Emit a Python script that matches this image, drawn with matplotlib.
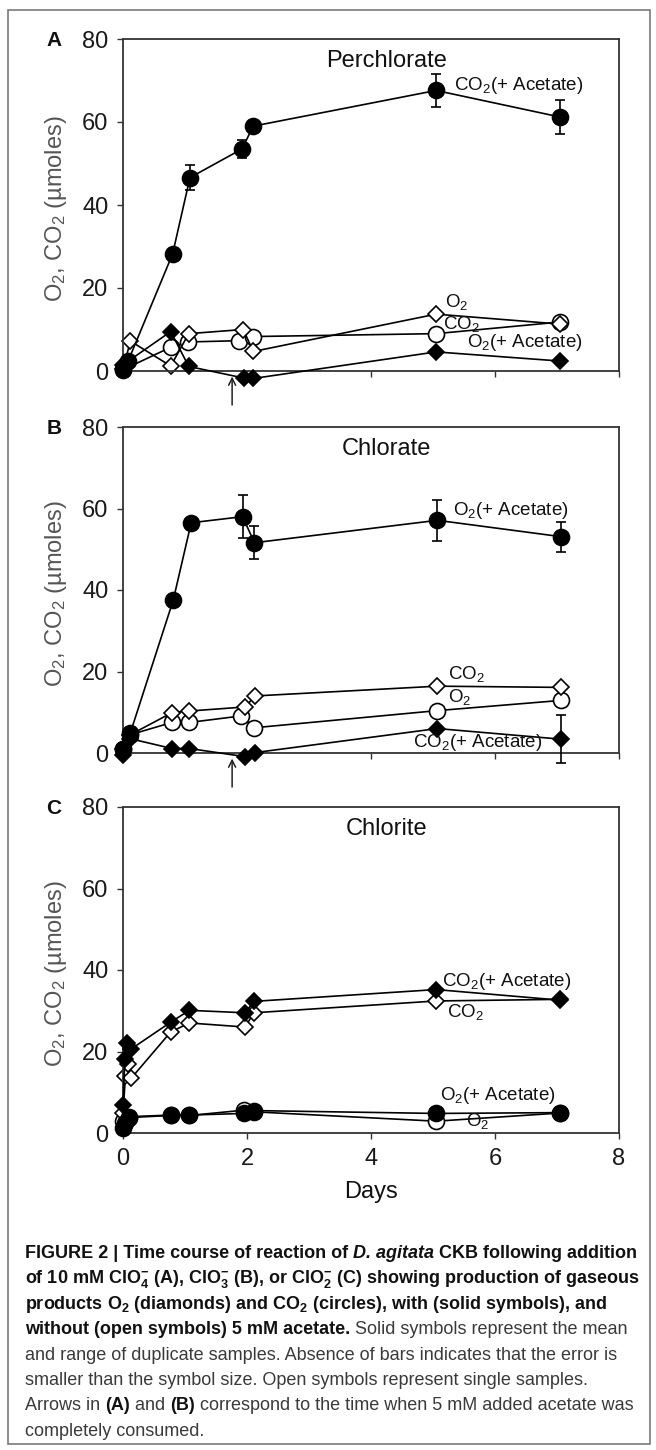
import matplotlib
matplotlib.use('Agg')
import matplotlib.pyplot as plt
from matplotlib.patches import Rectangle

# ---------------- data ----------------
DAY_TICKS = [0, 2, 4, 6, 8]
Y_TICKS = [0, 20, 40, 60, 80]
TITLES = ['Perchlorate', 'Chlorate', 'Chlorite']
PANEL_LETTERS = ['A', 'B', 'C']
ARROW_DAY = 1.76

# Panel A - Perchlorate
A_co2_ac_days = [0.0, 0.08, 0.8, 1.08, 1.92, 2.1, 5.05, 7.05]
A_co2_ac = [0.6, 2.3, 28.2, 46.6, 53.5, 59.0, 67.6, 61.2]
A_co2_ac_err = [0, 0, 0, 3.0, 2.2, 0, 4.0, 4.2]
A_o2_ac_days = [0.0, 0.77, 1.06, 1.95, 2.1, 5.05, 7.05]
A_o2_ac = [1.5, 9.5, 1.1, -1.7, -1.8, 4.6, 2.4]
A_co2_days = [0.0, 0.78, 1.05, 1.87, 2.1, 5.05, 7.05]
A_co2 = [0.3, 5.8, 7.0, 7.3, 8.3, 9.0, 11.8]
A_o2_days = [0.0, 0.12, 0.77, 1.06, 1.94, 2.1, 5.05, 7.05]
A_o2 = [0.5, 7.2, 1.2, 9.0, 10.0, 4.7, 13.7, 11.3]

# Panel B - Chlorate
B_o2_ac_days = [0.0, 0.12, 0.81, 1.1, 1.93, 2.12, 5.07, 7.06]
B_o2_ac = [1.0, 5.0, 37.5, 56.5, 58.0, 51.6, 57.1, 53.1]
B_o2_ac_err = [0, 0, 0, 0, 5.3, 4.1, 5.0, 3.7]
B_co2_days = [0.0, 0.12, 0.79, 1.07, 1.97, 2.13, 5.07, 7.06]
B_co2 = [1.0, 4.5, 9.9, 10.3, 11.3, 14.0, 16.4, 16.1]
B_o2_days = [0.0, 0.12, 0.79, 1.07, 1.91, 2.12, 5.07, 7.06]
B_o2 = [1.0, 4.5, 7.5, 7.5, 9.1, 6.2, 10.4, 12.9]
B_co2_ac_days = [0.0, 0.12, 0.79, 1.07, 1.97, 2.13, 5.07, 7.06]
B_co2_ac = [-0.5, 3.5, 1.1, 1.1, -0.9, 0.1, 6.0, 3.4]
B_co2_ac_err = [0, 0, 0, 0, 0, 0, 0, 5.9]

# Panel C - Chlorite
C_co2_ac_days = [0.0, 0.03, 0.07, 0.13, 0.77, 1.07, 1.97, 2.11, 5.05, 7.05]
C_co2_ac = [6.8, 18.2, 22.0, 20.6, 27.2, 30.1, 29.5, 32.3, 35.2, 32.6]
C_co2_days = [0.0, 0.04, 0.08, 0.13, 0.77, 1.07, 1.97, 2.11, 5.05, 7.05]
C_co2 = [5.0, 14.0, 17.0, 13.4, 24.8, 27.0, 26.0, 29.5, 32.4, 32.8]
C_o2_ac_days = [0.0, 0.04, 0.1, 0.77, 1.07, 1.95, 2.11, 5.05, 7.05]
C_o2_ac = [1.2, 2.5, 4.0, 4.4, 4.4, 4.8, 5.5, 4.8, 5.0]
C_o2_days = [0.0, 0.1, 0.77, 1.07, 1.95, 2.11, 5.05, 7.05]
C_o2 = [3.0, 3.8, 4.3, 4.3, 5.6, 5.2, 2.9, 4.9]

# series labels: (text, day, value)
A_labels = [(r'CO$_2$(+ Acetate)', 5.34, 68.7), (r'O$_2$', 5.19, 16.6),
            (r'CO$_2$', 5.16, 11.3), (r'O$_2$(+ Acetate)', 5.55, 6.8)]
B_labels = [(r'O$_2$(+ Acetate)', 5.32, 59.5), (r'CO$_2$', 5.25, 19.4),
            (r'O$_2$', 5.25, 13.8), (r'CO$_2$(+ Acetate)', 4.68, 2.6)]
C_labels = [(r'CO$_2$(+ Acetate)', 5.14, 37.3), (r'CO$_2$', 5.22, 29.7),
            (r'O$_2$(+ Acetate)', 5.12, 9.1), (r'O$_2$', 5.53, 2.85)]

# ---------------- style ----------------
W, H, DPI = 656, 1450, 100
plt.rcParams['font.family'] = ['Liberation Sans', 'DejaVu Sans']
plt.rcParams['mathtext.fontset'] = 'custom'
plt.rcParams['mathtext.rm'] = 'Liberation Sans'
plt.rcParams['mathtext.it'] = 'Liberation Sans:italic'
plt.rcParams['mathtext.bf'] = 'Liberation Sans:bold'

fig = plt.figure(figsize=(W / DPI, H / DPI), dpi=DPI)
fig.patch.set_facecolor('white')

AX_LEFT, AX_RIGHT = 123, 619
PANEL_TB = [(39, 371), (427, 753), (807, 1133)]
SPINE = '#333333'
MS_C, MS_D = 11.5, 8.3
LW = 1.2


def add_axes_px(top, bottom):
    return fig.add_axes([AX_LEFT / W, 1 - bottom / H,
                         (AX_RIGHT - AX_LEFT) / W, (bottom - top) / H])


def series(ax, days, vals, marker, filled, err=None):
    ms = MS_C if marker == 'o' else MS_D
    ax.plot(days, vals, '-', color='k', lw=LW, marker=marker, ms=ms,
            mfc='k' if filled else 'white', mec='k', mew=1.2,
            clip_on=False, zorder=3 if filled else 2.5)
    if err is not None:
        d = [x for x, e in zip(days, err) if e > 0]
        v = [y for y, e in zip(vals, err) if e > 0]
        e2 = [e for e in err if e > 0]
        ax.errorbar(d, v, yerr=e2, fmt='none', ecolor='k', elinewidth=1.2,
                    capsize=3.5, capthick=1.2, clip_on=False, zorder=2.8)


axes = []
for i, (top, bottom) in enumerate(PANEL_TB):
    ax = add_axes_px(top, bottom)
    ax.set_xlim(DAY_TICKS[0], DAY_TICKS[-1])
    ax.set_ylim(Y_TICKS[0], Y_TICKS[-1])
    ax.set_xticks(DAY_TICKS)
    ax.set_yticks(Y_TICKS)
    for s in ax.spines.values():
        s.set_color(SPINE)
        s.set_linewidth(1.3)
    ax.tick_params(direction='out', length=4.5, width=1.0, color=SPINE,
                   labelsize=17, labelcolor='#1a1a1a', pad=6)
    if i < 2:
        ax.tick_params(axis='x', labelbottom=False)
    ax.text(4.25, 74.6, TITLES[i], ha='center', va='center', fontsize=17,
            color='#111111')
    ax.text(-0.136, 0.49, r'O$_2$, CO$_2$ (µmoles)', transform=ax.transAxes,
            rotation=90, ha='center', va='center', fontsize=17, color='#555555')
    fig.text(54 / W, 1 - (top + 2) / H, PANEL_LETTERS[i], fontsize=15,
             fontweight='bold', ha='center', va='center', color='#111111')
    axes.append(ax)

axA, axB, axC = axes

# Panel A
series(axA, A_co2_days, A_co2, 'o', False)
series(axA, A_o2_days, A_o2, 'D', False)
series(axA, A_o2_ac_days, A_o2_ac, 'D', True)
series(axA, A_co2_ac_days, A_co2_ac, 'o', True, A_co2_ac_err)
# Panel B
series(axB, B_o2_days, B_o2, 'o', False)
series(axB, B_co2_days, B_co2, 'D', False)
series(axB, B_co2_ac_days, B_co2_ac, 'D', True, B_co2_ac_err)
series(axB, B_o2_ac_days, B_o2_ac, 'o', True, B_o2_ac_err)
# Panel C
series(axC, C_o2_days, C_o2, 'o', False)
series(axC, C_co2_days, C_co2, 'D', False)
series(axC, C_co2_ac_days, C_co2_ac, 'D', True)
series(axC, C_o2_ac_days, C_o2_ac, 'o', True)

for ax, labels in zip(axes, [A_labels, B_labels, C_labels]):
    for txt, x, y in labels:
        ax.text(x, y, txt, ha='left', va='center', fontsize=13.5, color='#111111',
                zorder=5)

# arrows (acetate consumed)
for ax in [axA, axB]:
    ax.annotate('', xy=(ARROW_DAY, 0), xycoords=('data', 'axes fraction'),
                xytext=(0, -34), textcoords='offset pixels',
                arrowprops=dict(arrowstyle='->,head_length=0.5,head_width=0.25',
                                lw=1.1, color='#222222', shrinkA=0, shrinkB=4),
                annotation_clip=False)

axC.text(0.5, -0.181, 'Days', transform=axC.transAxes, ha='center', va='center',
         fontsize=17, color='#111111')

# outer frame
fig.add_artist(Rectangle((8 / W, 1 - 1444 / H), (650 - 8) / W, (1444 - 10) / H,
                         transform=fig.transFigure, fill=False, ec='#7a7a7a', lw=1.2))

# ---------------- caption ----------------
B_, N_ = 'bold', 'normal'
caption = [
    [('FIGURE 2 | Time course of reaction of ', B_, N_), ('D. agitata', B_, 'italic'),
     (' CKB following addition', B_, N_)],
    [(r'of 10 mM ClO$_\mathbf{4}^\mathbf{-}$ (A), ClO$_\mathbf{3}^\mathbf{-}$ (B), or '
      r'ClO$_\mathbf{2}^\mathbf{-}$ (C) showing production of gaseous', B_, N_)],
    [(r'products O$_\mathbf{2}$ (diamonds) and CO$_\mathbf{2}$ (circles), with (solid symbols), and',
      B_, N_)],
    [('without (open symbols) 5 mM acetate.', B_, N_),
     (' Solid symbols represent the mean', N_, N_)],
    [('and range of duplicate samples. Absence of bars indicates that the error is', N_, N_)],
    [('smaller than the symbol size. Open symbols represent single samples.', N_, N_)],
    [('Arrows in ', N_, N_), ('(A)', B_, N_), (' and ', N_, N_), ('(B)', B_, N_),
     (' correspond to the time when 5 mM added acetate was', N_, N_)],
    [('completely consumed.', N_, N_)],
]

renderer = fig.canvas.get_renderer()


def seg_width(txt, size, weight, style):
    t1 = fig.text(0, 0, txt + '|', fontsize=size, fontweight=weight, fontstyle=style)
    t2 = fig.text(0, 0, '|', fontsize=size, fontweight=weight, fontstyle=style)
    w = t1.get_window_extent(renderer).width - t2.get_window_extent(renderer).width
    t1.remove()
    t2.remove()
    return w


def line_width(segs, size):
    return sum(seg_width(t, size, w, s) for t, w, s in segs)


ref = 10.0
size_bold = ref * 613.0 / line_width(caption[0], ref)
size_norm = ref * 624.0 / line_width(caption[6], ref)
CAP_SIZE = min(size_bold, size_norm)

X0 = 25
BASE0 = 1258
LINE_GAP = 25.4
for i, segs in enumerate(caption):
    x = X0
    base = BASE0 + i * LINE_GAP
    for txt, weight, style in segs:
        fig.text(x / W, 1 - base / H, txt, fontsize=CAP_SIZE, fontweight=weight,
                 fontstyle=style, va='baseline', ha='left',
                 color='#111111' if weight == 'bold' else '#3a3a3a')
        x += seg_width(txt, CAP_SIZE, weight, style)

fig.savefig('out.png', dpi=DPI, facecolor='white')
